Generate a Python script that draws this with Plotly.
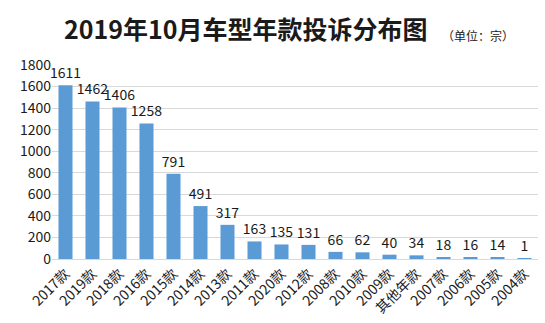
import plotly.graph_objects as go

# Complaint counts by model year, October 2019
years = ["2017款", "2019款", "2018款", "2016款", "2015款", "2014款", "2013款", "2011款", "2020款",
         "2012款", "2008款", "2010款", "2009款", "其他年款", "2007款", "2006款", "2005款", "2004款"]
counts = [1611, 1462, 1406, 1258, 791, 491, 317, 163, 135, 131, 66, 62, 40, 34, 18, 16, 14, 1]
y_ticks = [0, 200, 400, 600, 800, 1000, 1200, 1400, 1600, 1800]

FONT = "Noto Sans CJK SC, Noto Sans, sans-serif"

fig = go.Figure(go.Bar(
    x=years,
    y=counts,
    marker=dict(color="#5b9bd5", line=dict(width=0)),
    text=[str(c) for c in counts],
    textposition="outside",
    textfont=dict(family=FONT, size=14, color="#1a1a1a"),
    constraintext="none",
    cliponaxis=False,
))

fig.update_layout(
    width=545,
    height=323,
    margin=dict(l=52, r=7, t=65, b=64),
    paper_bgcolor="white",
    plot_bgcolor="white",
    bargap=0.48,
    showlegend=False,
    uniformtext=dict(minsize=14, mode="show"),
    font=dict(family=FONT, color="#1a1a1a"),
)

fig.update_xaxes(
    tickangle=-45,
    tickfont=dict(family=FONT, size=14, color="#1a1a1a"),
    showline=True,
    linecolor="#d9d9d9",
    ticks="",
)
fig.update_yaxes(
    range=[0, 1800],
    tickvals=y_ticks,
    tickfont=dict(family=FONT, size=14, color="#1a1a1a"),
    showgrid=True,
    gridcolor="#d9d9d9",
    zeroline=False,
    ticks="",
)

fig.add_annotation(
    text="<b>2019年10月车型年款投诉分布图</b>",
    xref="paper", yref="paper", x=0.40, y=1,
    xanchor="center", yanchor="bottom", yshift=17,
    showarrow=False,
    font=dict(family=FONT, size=25, color="#1a1a1a"),
)
fig.add_annotation(
    text="（单位：宗）",
    xref="paper", yref="paper", x=0.955, y=1,
    xanchor="right", yanchor="bottom", yshift=19,
    showarrow=False,
    font=dict(family=FONT, size=12, color="#1a1a1a"),
)

fig.write_html("out.html")
